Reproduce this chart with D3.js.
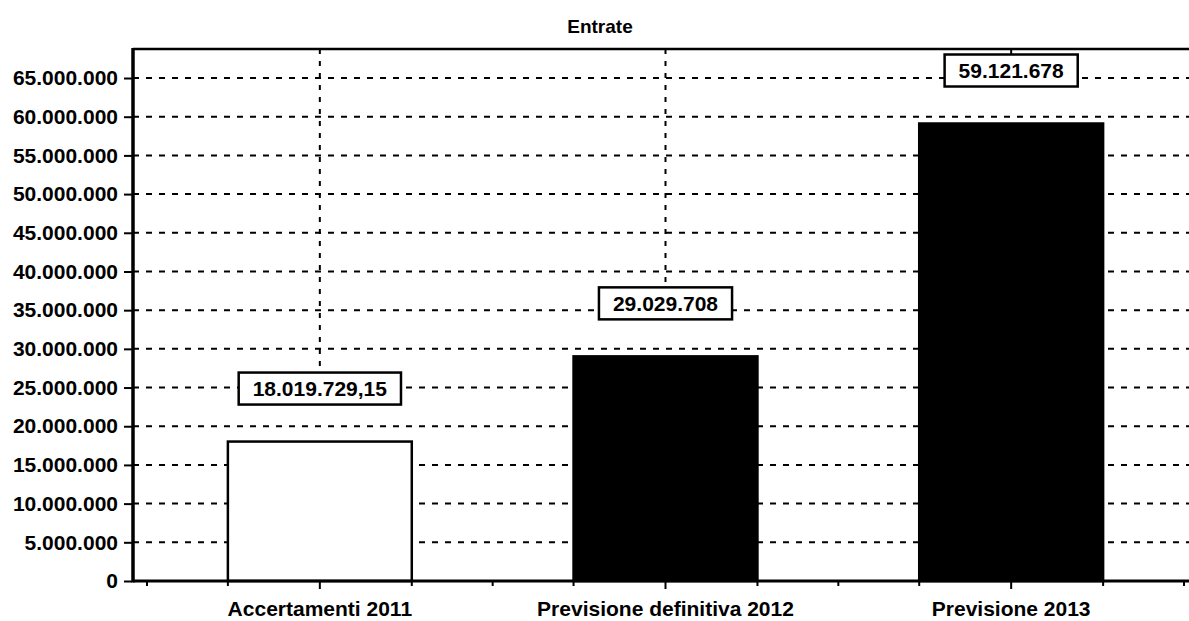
<!DOCTYPE html>
<html>
<head>
<meta charset="utf-8">
<script src="https://cdn.jsdelivr.net/npm/d3@7"></script>
<style>
  html, body { margin: 0; padding: 0; background: #fff; }
  svg text { font-family: "Liberation Sans", Arial, sans-serif; font-weight: bold; fill: #000; }
</style>
</head>
<body>
<svg id="chart" width="1189" height="621"></svg>
<script>
const title = "Entrate";
const categories = ["Accertamenti 2011", "Previsione definitiva 2012", "Previsione 2013"];
const values = [18019729.15, 29029708, 59121678];
const valueLabels = ["18.019.729,15", "29.029.708", "59.121.678"];
const barFills = ["#ffffff", "#000000", "#000000"];
const yTicks = [0, 5e6, 10e6, 15e6, 20e6, 25e6, 30e6, 35e6, 40e6, 45e6, 50e6, 55e6, 60e6, 65e6];
const yTickLabels = ["0", "5.000.000", "10.000.000", "15.000.000", "20.000.000", "25.000.000", "30.000.000",
  "35.000.000", "40.000.000", "45.000.000", "50.000.000", "55.000.000", "60.000.000", "65.000.000"];
const yMax = 68.75e6;

const svg = d3.select("#chart");
const plot = { left: 133, right: 1189, top: 49, bottom: 581 };

const y = d3.scaleLinear().domain([0, yMax]).range([plot.bottom, plot.top]);
const x = d3.scaleBand().domain(categories).range([147, 1184]).paddingInner(0.468).paddingOuter(0.234);
const cx = d => x(d) + x.bandwidth() / 2;

// Title
svg.append("text").attr("x", 600).attr("y", 33).attr("text-anchor", "middle")
  .style("font-size", "19px").text(title);

// Horizontal gridlines
svg.append("g").selectAll("line").data(yTicks.filter(t => t > 0)).join("line")
  .attr("x1", plot.left).attr("x2", plot.right)
  .attr("y1", d => y(d)).attr("y2", d => y(d))
  .attr("stroke", "#000").attr("stroke-width", 2).attr("stroke-dasharray", "6,7");

// Label box geometry
const boxGap = 37, boxH = 32;
const boxTop = v => y(v) - boxGap - boxH;

// Vertical gridlines (at category centers, down to the label box)
svg.append("g").selectAll("line").data(categories).join("line")
  .attr("x1", d => cx(d)).attr("x2", d => cx(d))
  .attr("y1", plot.top).attr("y2", (d, i) => boxTop(values[i]))
  .attr("stroke", "#000").attr("stroke-width", 2).attr("stroke-dasharray", "5,7");

// Bars
svg.append("g").selectAll("rect").data(categories).join("rect")
  .attr("x", d => x(d)).attr("width", x.bandwidth())
  .attr("y", (d, i) => y(values[i])).attr("height", (d, i) => y(0) - y(values[i]))
  .attr("fill", (d, i) => barFills[i])
  .attr("stroke", "#000").attr("stroke-width", 2.5);

// Value labels with boxes
const lbl = svg.append("g").selectAll("g").data(categories).join("g");
lbl.each(function (d, i) {
  const g = d3.select(this);
  const t = g.append("text").attr("x", cx(d)).attr("y", boxTop(values[i]) + boxH / 2)
    .attr("text-anchor", "middle").attr("dy", "0.36em")
    .style("font-size", "21px").text(valueLabels[i]);
  const w = t.node().getComputedTextLength() + 28;
  g.insert("rect", "text")
    .attr("x", cx(d) - w / 2).attr("width", w)
    .attr("y", boxTop(values[i])).attr("height", boxH)
    .attr("fill", "#fff").attr("stroke", "#000").attr("stroke-width", 2.5);
});

// Axes frame
svg.append("line").attr("x1", plot.left).attr("x2", plot.right).attr("y1", plot.top).attr("y2", plot.top)
  .attr("stroke", "#000").attr("stroke-width", 2.5);
svg.append("line").attr("x1", plot.left).attr("x2", plot.left).attr("y1", plot.top - 1).attr("y2", plot.bottom + 1.5)
  .attr("stroke", "#000").attr("stroke-width", 3.5);
svg.append("line").attr("x1", plot.left).attr("x2", plot.right).attr("y1", plot.bottom).attr("y2", plot.bottom)
  .attr("stroke", "#000").attr("stroke-width", 3);

// Y axis
const yAxis = d3.axisLeft(y).tickValues(yTicks).tickSize(8).tickPadding(6)
  .tickFormat((d, i) => yTickLabels[i]);
const gy = svg.append("g").attr("transform", `translate(${plot.left - 1},0)`).call(yAxis);
gy.select(".domain").remove();
gy.selectAll(".tick line").attr("stroke", "#000").attr("stroke-width", 2);
gy.selectAll(".tick text").style("font-size", "21px").attr("font-family", null).attr("font-size", null);

// X axis (category labels with long ticks at centers)
const xAxis = d3.axisBottom(x).tickSize(8).tickPadding(12);
const gx = svg.append("g").attr("transform", `translate(0,${plot.bottom})`).call(xAxis);
gx.select(".domain").remove();
gx.selectAll(".tick line").attr("stroke", "#000").attr("stroke-width", 2);
gx.selectAll(".tick text").style("font-size", "21px").attr("font-family", null).attr("font-size", null);

// Small ticks at bar edges and band boundaries
const minor = [];
categories.forEach(c => {
  minor.push(x(c), x(c) + x.bandwidth());
  minor.push(x(c) - (x.step() - x.bandwidth()) / 2);
});
minor.push(x(categories[2]) + x.bandwidth() + (x.step() - x.bandwidth()) / 2);
svg.append("g").selectAll("line").data(minor).join("line")
  .attr("x1", d => d).attr("x2", d => d)
  .attr("y1", plot.bottom).attr("y2", plot.bottom + 5)
  .attr("stroke", "#000").attr("stroke-width", 2);
</script>
</body>
</html>
